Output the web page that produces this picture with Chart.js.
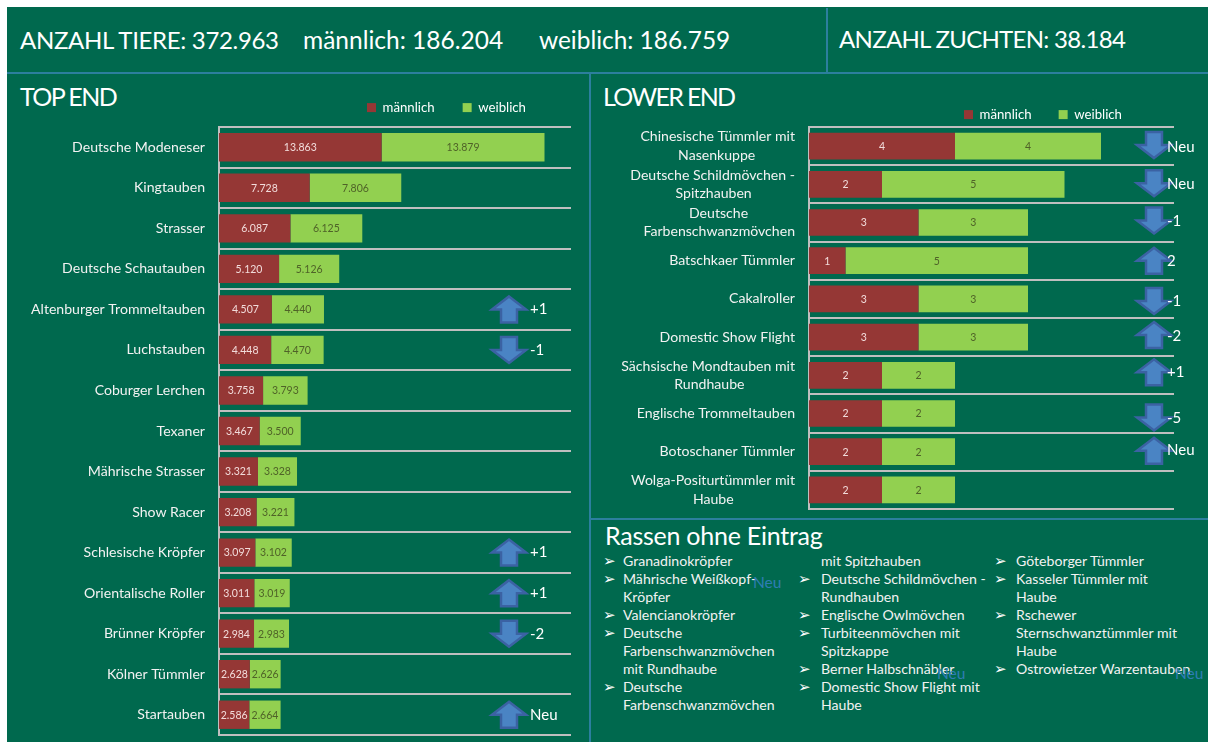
<!DOCTYPE html>
<html lang="de"><head><meta charset="utf-8">
<script src="https://cdn.jsdelivr.net/npm/chart.js@4"></script>
<style>
html,body{margin:0;padding:0;background:#fff;width:1208px;height:742px;overflow:hidden}
#board{position:absolute;left:7px;top:7px;width:1201px;height:735px;background:#00694E}
.rule{position:absolute;background:#2C7F9E}
.t{position:absolute;color:#fff;font-family:Lato,sans-serif;white-space:nowrap;line-height:1}
canvas{position:absolute}
.li{position:absolute;color:#F2F2F2;font-family:Lato,sans-serif;font-size:14.1px;line-height:18px;white-space:nowrap}
.bu{position:absolute;color:#fff;font-family:"DejaVu Sans",sans-serif;font-size:15px;line-height:18px}
.neu{position:absolute;color:#2F7DB4;font-family:Lato,sans-serif;font-size:15.5px;line-height:18px}
</style></head><body>
<div id="board"></div>
<div class="rule" style="left:7px;top:72px;width:1201px;height:2px"></div>
<div class="rule" style="left:826px;top:8px;width:2px;height:65px"></div>
<div class="rule" style="left:589px;top:72px;width:2px;height:670px"></div>
<div class="rule" style="left:589px;top:518px;width:619px;height:2px"></div>
<div class="t" style="left:20px;top:28px;font-size:24px;letter-spacing:-.33px">ANZAHL TIERE: 372.963</div>
<div class="t" style="left:303px;top:28px;font-size:24.5px">männlich: 186.204</div>
<div class="t" style="left:539px;top:28px;font-size:24.4px">weiblich: 186.759</div>
<div class="t" style="left:839px;top:27px;font-size:24px;letter-spacing:-.7px">ANZAHL ZUCHTEN: 38.184</div>
<div class="t" style="left:20px;top:84px;font-size:25px;letter-spacing:-1.6px">TOP END</div>
<div class="t" style="left:603px;top:84px;font-size:25px;letter-spacing:-1.7px">LOWER END</div>
<div class="t" style="left:605px;top:523px;font-size:25px;letter-spacing:-.25px">Rassen ohne Eintrag</div>
<canvas id="top" width="581" height="669" style="left:8px;top:73px"></canvas>
<canvas id="low" width="618" height="445" style="left:590px;top:73px"></canvas>
<div id="list"></div>
<script>
const seriesNames = ["männlich", "weiblich"];
const topCategories = ["Deutsche Modeneser","Kingtauben","Strasser","Deutsche Schautauben","Altenburger Trommeltauben","Luchstauben","Coburger Lerchen","Texaner","Mährische Strasser","Show Racer","Schlesische Kröpfer","Orientalische Roller","Brünner Kröpfer","Kölner Tümmler","Startauben"];
const topMale = [13863,7728,6087,5120,4507,4448,3758,3467,3321,3208,3097,3011,2984,2628,2586];
const topFemale = [13879,7806,6125,5126,4440,4470,3793,3500,3328,3221,3102,3019,2983,2626,2664];
const topRank = ["","","","","+1","-1","","","","","+1","+1","-2","","Neu"];
const topArrow = [0,0,0,0,1,-1,0,0,0,0,1,1,-1,0,1];
const lowCategories = [["Chinesische Tümmler mit","Nasenkuppe"],["Deutsche Schildmövchen -","Spitzhauben"],["Deutsche","Farbenschwanzmövchen"],"Batschkaer Tümmler","Cakalroller","Domestic Show Flight",["Sächsische Mondtauben mit","Rundhaube"],"Englische Trommeltauben","Botoschaner Tümmler",["Wolga-Positurtümmler mit","Haube"]];
const lowMale = [4,2,3,1,3,3,2,2,2,2];
const lowFemale = [4,5,3,5,3,3,2,2,2,2];
const lowRank = ["Neu","Neu","-1","2","-1","-2","+1","-5","Neu",""];
const lowArrow = [-1,-1,-1,1,-1,1,1,-1,1,0];
const listCol1 = ["*Granadinokröpfer","*Mährische Weißkopf-","Kröpfer","*Valencianokröpfer","*Deutsche","Farbenschwanzmövchen","mit Rundhaube","*Deutsche","Farbenschwanzmövchen"];
const listCol2 = ["mit Spitzhauben","*Deutsche Schildmövchen -","Rundhauben","*Englische Owlmövchen","*Turbiteenmövchen mit","Spitzkappe","*Berner Halbschnäbler","*Domestic Show Flight mit","Haube"];
const listCol3 = ["*Göteborger Tümmler","*Kasseler Tümmler mit","Haube","*Rschewer","Sternschwanztümmler mit","Haube","*Ostrowietzer Warzentauben"];

const MALE = "#953735", FEMALE = "#92D050";
const FONT = "Lato, sans-serif";
const TICK_SIZE = 14.1;
const fmt = v => v >= 1000 ? Math.floor(v/1000) + "." + String(v%1000).padStart(3,"0") : String(v);

const measure = document.createElement("canvas").getContext("2d");
function centreLines(label){
  if(!Array.isArray(label)) return label;
  measure.font = TICK_SIZE+"px "+FONT;
  const w = label.map(s=>measure.measureText(s).width), max=Math.max(...w), sp=measure.measureText(" ").width;
  return label.map((s,i)=>s+" ".repeat(Math.round((max-w[i])/2/sp)));
}

const barLabels = {
  id:"barLabels",
  afterDatasetsDraw(chart){
    const c = chart.ctx; c.save();
    c.textAlign="center"; c.textBaseline="middle"; c.font="10.5px "+FONT;
    chart.data.datasets.forEach((ds,d)=>{
      c.fillStyle = d===0 ? "#F2DCDB" : "#4F6228";
      chart.getDatasetMeta(d).data.forEach((b,i)=>{
        const p=b.getCenterPoint(); c.fillText(fmt(ds.data[i]),p.x,p.y+0.5);
      });
    });
    c.restore();
  }
};
const rankArrows = {
  id:"rankArrows",
  afterDraw(chart,args,o){
    const c=chart.ctx, sy=chart.scales.y; c.save();
    o.dirs.forEach((dir,i)=>{
      const yc=sy.getPixelForValue(i)+(o.nudge?o.nudge[i]:0), x=o.x;
      if(dir){
        const hw=17,sw=8,h=13;
        c.beginPath();
        c.moveTo(x,yc-h*dir);
        c.lineTo(x+hw,yc);
        c.lineTo(x+sw,yc);
        c.lineTo(x+sw,yc+h*dir);
        c.lineTo(x-sw,yc+h*dir);
        c.lineTo(x-sw,yc);
        c.lineTo(x-hw,yc);
        c.closePath();
        c.fillStyle="#4A84C4"; c.strokeStyle="#3B62A3"; c.lineWidth=2.5; c.lineJoin="miter"; c.fill(); c.stroke();
      }
      if(o.texts[i]){
        c.fillStyle="#fff"; c.font="15px "+FONT; c.textAlign="left"; c.textBaseline="middle";
        c.fillText(o.texts[i],o.textX,sy.getPixelForValue(i)+(o.textNudge?o.textNudge[i]:0));
      }
    });
    c.restore();
  }
};
const placeLegend = {
  id:"placeLegend",
  afterLayout(chart,args,o){
    const l=chart.legend, p=l.options.labels.padding;
    l.left=o.x-p; l.right=chart.width; l.top=o.y-p; l.bottom=chart.height;
  }
};
function build(id,cats,m,f,max,yW,pad,rank,legendPos,legendPad){
  return new Chart(document.getElementById(id),{
    type:"bar",
    data:{labels:cats,datasets:[
      {label:seriesNames[0],data:m,backgroundColor:MALE,stack:"s"},
      {label:seriesNames[1],data:f,backgroundColor:FEMALE,stack:"s"}]},
    plugins:[barLabels,rankArrows,placeLegend],
    options:{
      indexAxis:"y",responsive:false,animation:false,
      layout:{padding:pad},
      datasets:{bar:{barPercentage:0.7,categoryPercentage:1}},
      scales:{
        x:{display:false,stacked:true,min:0,max:max},
        y:{stacked:true,afterFit:s=>{s.width=yW;s.paddingTop=0;s.paddingBottom=0;},
           grid:{color:"#BFBFBF",lineWidth:2,drawTicks:false,offset:true},
           border:{color:"#BFBFBF",width:2},
           ticks:{color:"#F2F2F2",font:{family:FONT,size:TICK_SIZE,lineHeight:1.32},padding:14,autoSkip:false,
             callback(v){return centreLines(this.getLabelForValue(v)===undefined?v:cats[v]);}}}
      },
      plugins:{
        tooltip:{enabled:false},
        legend:{position:"top",align:"start",maxHeight:20,
          labels:{color:"#fff",boxWidth:9,boxHeight:9,padding:legendPad,font:{family:FONT,size:13.2}}},
        placeLegend:legendPos,
        rankArrows:rank
      }
    }
  });
}
build("top",topCategories,topMale,topFemale,30000,211,{top:34,bottom:7,right:18,left:0},
  {dirs:topArrow,texts:topRank,x:501,textX:522},{x:359,y:28},28);
build("low",lowCategories,lowMale,lowFemale,10,219,{top:34,bottom:9,right:34,left:0},
  {dirs:lowArrow,texts:lowRank,x:564,textX:577,nudge:[-1,-1,-2,0,2,-2,-3,4,-1,0],textNudge:[1,0,-1,0,2,-1,-3,5,-2,0]},{x:374,y:35},27);

const host=document.getElementById("list");
function col(lines,bx,tx){
  lines.forEach((s,i)=>{
    const y=552+i*18, b=s[0]==="*";
    if(b){const e=document.createElement("div");e.className="bu";e.style.left=bx+"px";e.style.top=y+"px";e.textContent="➢";host.appendChild(e);}
    const e=document.createElement("div");e.className="li";e.style.left=tx+"px";e.style.top=y+"px";e.textContent=b?s.slice(1):s;host.appendChild(e);
  });
}
col(listCol1,603,623);col(listCol2,798,821);col(listCol3,994,1016);
[[753,573],[937,664],[1175,664]].forEach(([x,y])=>{
  const e=document.createElement("div");e.className="neu";e.style.left=x+"px";e.style.top=y+"px";e.textContent="Neu";host.appendChild(e);
});
</script>
</body></html>
